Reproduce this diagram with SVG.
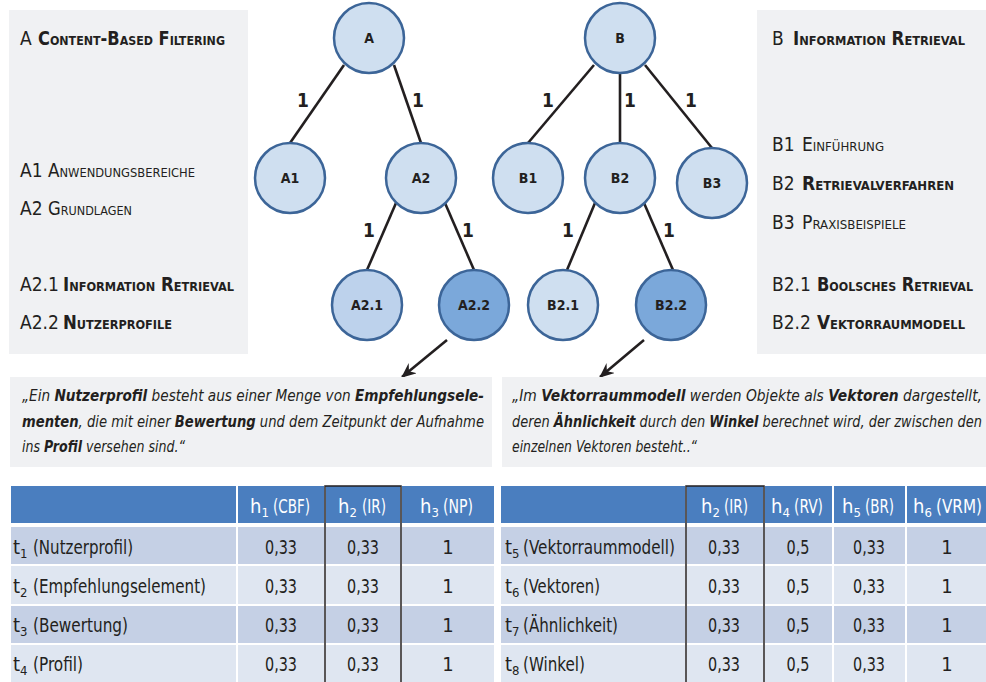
<svg xmlns="http://www.w3.org/2000/svg" width="986" height="682" viewBox="0 0 986 682">
<style>
.f{font-family:"Liberation Sans Narrow","DejaVu Sans Condensed","Liberation Sans",sans-serif;font-stretch:condensed;fill:#231f20}
.sc{font-variant:small-caps}
.b{font-weight:bold}
.panel{fill:#f0f1f3}
.node{stroke:#3c6598;stroke-width:2.5}
.lt{fill:#cfdff0}.md{fill:#bdd2ec}.dk{fill:#7ba8da}
.edge{stroke:#231f20;stroke-width:2.6;fill:none}
.nl{font-size:14px;font-weight:bold;text-anchor:middle}
.el{font-size:19px;font-weight:bold;text-anchor:middle}
.pt{font-size:19px}
.q{font-size:16.5px;font-style:italic}
.hd{fill:#4a7ebf}
.r1{fill:#c5d0e5}.r2{fill:#dfe6f1}
.th{font-size:20px;fill:#fff}
.td{font-size:20px;text-anchor:middle}
.tl{font-size:20px}
.sub{font-size:13px}
.bx{stroke:#231f20;stroke-width:1.5;fill:none}
</style>
<defs>
<marker id="head" markerWidth="15" markerHeight="13" refX="14" refY="6.5" orient="auto" markerUnits="userSpaceOnUse">
<path d="M0,0 L15,6.5 L0,13 L5,6.5 z" fill="#231f20"/>
</marker>
</defs>

<!-- side panels -->
<g id="panel-a">
<rect class="panel" x="9" y="10" width="239" height="344"/>
<text class="f pt" y="45"><tspan x="20">A</tspan><tspan x="38" class="b sc" textLength="187" lengthAdjust="spacingAndGlyphs">Content-Based Filtering</tspan></text>
<text class="f pt" y="177"><tspan x="20">A1</tspan><tspan x="48" class="sc" textLength="147" lengthAdjust="spacingAndGlyphs">Anwendungsbereiche</tspan></text>
<text class="f pt" y="215"><tspan x="20">A2</tspan><tspan x="48" class="sc" textLength="84" lengthAdjust="spacingAndGlyphs">Grundlagen</tspan></text>
<text class="f pt" y="291"><tspan x="20">A2.1</tspan><tspan x="63" class="b sc" textLength="171" lengthAdjust="spacingAndGlyphs">Information Retrieval</tspan></text>
<text class="f pt" y="329"><tspan x="20">A2.2</tspan><tspan x="63" class="b sc" textLength="109" lengthAdjust="spacingAndGlyphs">Nutzerprofile</tspan></text>
</g>

<g id="panel-b">
<rect class="panel" x="757" y="10" width="229" height="344"/>
<text class="f pt" y="45"><tspan x="772">B</tspan><tspan x="793" class="b sc" textLength="172" lengthAdjust="spacingAndGlyphs">Information Retrieval</tspan></text>
<text class="f pt" y="151"><tspan x="772">B1</tspan><tspan x="802" class="sc" textLength="82" lengthAdjust="spacingAndGlyphs">Einführung</tspan></text>
<text class="f pt" y="190"><tspan x="772">B2</tspan><tspan x="802" class="b sc" textLength="152" lengthAdjust="spacingAndGlyphs">Retrievalverfahren</tspan></text>
<text class="f pt" y="229"><tspan x="772">B3</tspan><tspan x="802" class="sc" textLength="104" lengthAdjust="spacingAndGlyphs">Praxisbeispiele</tspan></text>
<text class="f pt" y="291"><tspan x="772">B2.1</tspan><tspan x="817" class="b sc" textLength="156" lengthAdjust="spacingAndGlyphs">Boolsches Retrieval</tspan></text>
<text class="f pt" y="329"><tspan x="772">B2.2</tspan><tspan x="817" class="b sc" textLength="148" lengthAdjust="spacingAndGlyphs">Vektorraummodell</tspan></text>
</g>

<!-- connectors -->
<g id="connectors">
<line class="edge" x1="344" y1="65" x2="290" y2="143"/>
<line class="edge" x1="394" y1="65" x2="421" y2="143"/>
<line class="edge" x1="396" y1="203" x2="367" y2="270"/>
<line class="edge" x1="445" y1="203" x2="474" y2="270"/>
<line class="edge" x1="594" y1="65" x2="528" y2="143"/>
<line class="edge" x1="620" y1="73" x2="620" y2="143"/>
<line class="edge" x1="645" y1="65" x2="712" y2="148"/>
<line class="edge" x1="595" y1="203" x2="567" y2="270"/>
<line class="edge" x1="644" y1="203" x2="673" y2="270"/>
<line class="edge" x1="447" y1="340" x2="402" y2="377" marker-end="url(#head)"/>
<line class="edge" x1="644" y1="340" x2="600" y2="377" marker-end="url(#head)"/>
<text class="f el" x="303" y="107">1</text>
<text class="f el" x="418" y="107">1</text>
<text class="f el" x="369" y="237">1</text>
<text class="f el" x="468" y="237">1</text>
<text class="f el" x="548" y="107">1</text>
<text class="f el" x="630" y="107">1</text>
<text class="f el" x="691" y="107">1</text>
<text class="f el" x="568" y="237">1</text>
<text class="f el" x="669" y="237">1</text>
</g>

<!-- tree nodes -->
<g id="node-A"><circle class="node lt" cx="369" cy="38" r="35"/><text class="f nl" x="369" y="43">A</text></g>
<g id="node-A1"><circle class="node lt" cx="290" cy="178" r="35"/><text class="f nl" x="290" y="183">A1</text></g>
<g id="node-A2"><circle class="node lt" cx="421" cy="178" r="35"/><text class="f nl" x="421" y="183">A2</text></g>
<g id="node-A2-1"><circle class="node md" cx="367" cy="305" r="35"/><text class="f nl" x="367" y="310">A2.1</text></g>
<g id="node-A2-2"><circle class="node dk" cx="474" cy="305" r="35"/><text class="f nl" x="474" y="310">A2.2</text></g>
<g id="node-B"><circle class="node lt" cx="620" cy="38" r="35"/><text class="f nl" x="620" y="43">B</text></g>
<g id="node-B1"><circle class="node lt" cx="528" cy="178" r="35"/><text class="f nl" x="528" y="183">B1</text></g>
<g id="node-B2"><circle class="node lt" cx="620" cy="178" r="35"/><text class="f nl" x="620" y="183">B2</text></g>
<g id="node-B3"><circle class="node lt" cx="712" cy="183" r="35"/><text class="f nl" x="712" y="188">B3</text></g>
<g id="node-B2-1"><circle class="node lt" cx="563" cy="305" r="35"/><text class="f nl" x="563" y="310">B2.1</text></g>
<g id="node-B2-2"><circle class="node dk" cx="671" cy="305" r="35"/><text class="f nl" x="671" y="310">B2.2</text></g>

<!-- definitions -->
<g id="quote-a">
<rect class="panel" x="10" y="377" width="482" height="90"/>
<text class="f q" x="22" y="401" textLength="462" lengthAdjust="spacingAndGlyphs">„Ein <tspan class="b">Nutzerprofil</tspan> besteht aus einer Menge von <tspan class="b">Empfehlungsele-</tspan></text>
<text class="f q" x="22" y="427" textLength="462" lengthAdjust="spacingAndGlyphs"><tspan class="b">menten</tspan>, die mit einer <tspan class="b">Bewertung</tspan> und dem Zeitpunkt der Aufnahme</text>
<text class="f q" x="22" y="452" textLength="163" lengthAdjust="spacingAndGlyphs">ins <tspan class="b">Profil</tspan> versehen sind.“</text>
</g>
<g id="quote-b">
<rect class="panel" x="502" y="377" width="484" height="90"/>
<text class="f q" x="512" y="401" textLength="470" lengthAdjust="spacingAndGlyphs">„Im <tspan class="b">Vektorraummodell</tspan> werden Objekte als <tspan class="b">Vektoren</tspan> dargestellt,</text>
<text class="f q" x="512" y="427" textLength="470" lengthAdjust="spacingAndGlyphs">deren <tspan class="b">Ähnlichkeit</tspan> durch den <tspan class="b">Winkel</tspan> berechnet wird, der zwischen den</text>
<text class="f q" x="512" y="452" textLength="185" lengthAdjust="spacingAndGlyphs">einzelnen Vektoren besteht..“</text>
</g>

<!-- weight table A -->
<g id="table-a">
<rect class="hd" x="11" y="486" width="225" height="37"/>
<rect class="hd" x="238" y="486" width="86" height="37"/>
<rect class="hd" x="326" y="486" width="74" height="37"/>
<rect class="hd" x="402" y="486" width="92" height="37"/>
<rect class="r1" x="11" y="527" width="225" height="37"/><rect class="r1" x="238" y="527" width="86" height="37"/><rect class="r1" x="326" y="527" width="74" height="37"/><rect class="r1" x="402" y="527" width="92" height="37"/>
<rect class="r2" x="11" y="566" width="225" height="38"/><rect class="r2" x="238" y="566" width="86" height="38"/><rect class="r2" x="326" y="566" width="74" height="38"/><rect class="r2" x="402" y="566" width="92" height="38"/>
<rect class="r1" x="11" y="606" width="225" height="37"/><rect class="r1" x="238" y="606" width="86" height="37"/><rect class="r1" x="326" y="606" width="74" height="37"/><rect class="r1" x="402" y="606" width="92" height="37"/>
<rect class="r2" x="11" y="645" width="225" height="37"/><rect class="r2" x="238" y="645" width="86" height="37"/><rect class="r2" x="326" y="645" width="74" height="37"/><rect class="r2" x="402" y="645" width="92" height="37"/>
<path class="bx" d="M325,682 V486 H401 V682"/>
<text class="f th" y="513"><tspan x="250">h</tspan><tspan class="sub" dy="4">1</tspan><tspan x="273" dy="-4" textLength="37" lengthAdjust="spacingAndGlyphs">(CBF)</tspan></text>
<text class="f th" y="513"><tspan x="338">h</tspan><tspan class="sub" dy="4">2</tspan><tspan x="362" dy="-4" textLength="24" lengthAdjust="spacingAndGlyphs">(IR)</tspan></text>
<text class="f th" y="513"><tspan x="420">h</tspan><tspan class="sub" dy="4">3</tspan><tspan x="443" dy="-4" textLength="30" lengthAdjust="spacingAndGlyphs">(NP)</tspan></text>
<text class="f tl" y="554"><tspan x="13">t</tspan><tspan class="sub" dy="4">1</tspan><tspan x="33" dy="-4" textLength="100" lengthAdjust="spacingAndGlyphs">(Nutzerprofil)</tspan></text>
<text class="f tl" y="593"><tspan x="13">t</tspan><tspan class="sub" dy="4">2</tspan><tspan x="33" dy="-4" textLength="173" lengthAdjust="spacingAndGlyphs">(Empfehlungselement)</tspan></text>
<text class="f tl" y="632"><tspan x="13">t</tspan><tspan class="sub" dy="4">3</tspan><tspan x="33" dy="-4" textLength="95" lengthAdjust="spacingAndGlyphs">(Bewertung)</tspan></text>
<text class="f tl" y="671"><tspan x="13">t</tspan><tspan class="sub" dy="4">4</tspan><tspan x="33" dy="-4" textLength="50" lengthAdjust="spacingAndGlyphs">(Profil)</tspan></text>
<text class="f td" x="281" y="554" textLength="32" lengthAdjust="spacingAndGlyphs">0,33</text><text class="f td" x="363" y="554" textLength="32" lengthAdjust="spacingAndGlyphs">0,33</text><text class="f td" x="448" y="554">1</text>
<text class="f td" x="281" y="593" textLength="32" lengthAdjust="spacingAndGlyphs">0,33</text><text class="f td" x="363" y="593" textLength="32" lengthAdjust="spacingAndGlyphs">0,33</text><text class="f td" x="448" y="593">1</text>
<text class="f td" x="281" y="632" textLength="32" lengthAdjust="spacingAndGlyphs">0,33</text><text class="f td" x="363" y="632" textLength="32" lengthAdjust="spacingAndGlyphs">0,33</text><text class="f td" x="448" y="632">1</text>
<text class="f td" x="281" y="671" textLength="32" lengthAdjust="spacingAndGlyphs">0,33</text><text class="f td" x="363" y="671" textLength="32" lengthAdjust="spacingAndGlyphs">0,33</text><text class="f td" x="448" y="671">1</text>
</g>

<!-- weight table B -->
<g id="table-b">
<rect class="hd" x="501" y="486" width="184" height="37"/>
<rect class="hd" x="687" y="486" width="76" height="37"/>
<rect class="hd" x="765" y="486" width="67" height="37"/>
<rect class="hd" x="834" y="486" width="71" height="37"/>
<rect class="hd" x="907" y="486" width="79" height="37"/>
<rect class="r1" x="501" y="527" width="184" height="37"/><rect class="r1" x="687" y="527" width="76" height="37"/><rect class="r1" x="765" y="527" width="67" height="37"/><rect class="r1" x="834" y="527" width="71" height="37"/><rect class="r1" x="907" y="527" width="79" height="37"/>
<rect class="r2" x="501" y="566" width="184" height="38"/><rect class="r2" x="687" y="566" width="76" height="38"/><rect class="r2" x="765" y="566" width="67" height="38"/><rect class="r2" x="834" y="566" width="71" height="38"/><rect class="r2" x="907" y="566" width="79" height="38"/>
<rect class="r1" x="501" y="606" width="184" height="37"/><rect class="r1" x="687" y="606" width="76" height="37"/><rect class="r1" x="765" y="606" width="67" height="37"/><rect class="r1" x="834" y="606" width="71" height="37"/><rect class="r1" x="907" y="606" width="79" height="37"/>
<rect class="r2" x="501" y="645" width="184" height="37"/><rect class="r2" x="687" y="645" width="76" height="37"/><rect class="r2" x="765" y="645" width="67" height="37"/><rect class="r2" x="834" y="645" width="71" height="37"/><rect class="r2" x="907" y="645" width="79" height="37"/>
<path class="bx" d="M686,682 V486 H764 V682"/>
<text class="f th" y="513"><tspan x="701">h</tspan><tspan class="sub" dy="4">2</tspan><tspan x="724" dy="-4" textLength="24" lengthAdjust="spacingAndGlyphs">(IR)</tspan></text>
<text class="f th" y="513"><tspan x="771">h</tspan><tspan class="sub" dy="4">4</tspan><tspan x="794" dy="-4" textLength="29" lengthAdjust="spacingAndGlyphs">(RV)</tspan></text>
<text class="f th" y="513"><tspan x="842">h</tspan><tspan class="sub" dy="4">5</tspan><tspan x="865" dy="-4" textLength="29" lengthAdjust="spacingAndGlyphs">(BR)</tspan></text>
<text class="f th" y="513"><tspan x="913">h</tspan><tspan class="sub" dy="4">6</tspan><tspan x="936" dy="-4" textLength="46" lengthAdjust="spacingAndGlyphs">(VRM)</tspan></text>
<text class="f tl" y="554"><tspan x="505">t</tspan><tspan class="sub" dy="4">5</tspan><tspan x="523" dy="-4" textLength="152" lengthAdjust="spacingAndGlyphs">(Vektorraummodell)</tspan></text>
<text class="f tl" y="593"><tspan x="505">t</tspan><tspan class="sub" dy="4">6</tspan><tspan x="523" dy="-4" textLength="77" lengthAdjust="spacingAndGlyphs">(Vektoren)</tspan></text>
<text class="f tl" y="632"><tspan x="505">t</tspan><tspan class="sub" dy="4">7</tspan><tspan x="523" dy="-4" textLength="95" lengthAdjust="spacingAndGlyphs">(Ähnlichkeit)</tspan></text>
<text class="f tl" y="671"><tspan x="505">t</tspan><tspan class="sub" dy="4">8</tspan><tspan x="523" dy="-4" textLength="62" lengthAdjust="spacingAndGlyphs">(Winkel)</tspan></text>
<text class="f td" x="724" y="554" textLength="32" lengthAdjust="spacingAndGlyphs">0,33</text><text class="f td" x="798" y="554" textLength="23" lengthAdjust="spacingAndGlyphs">0,5</text><text class="f td" x="869" y="554" textLength="32" lengthAdjust="spacingAndGlyphs">0,33</text><text class="f td" x="947" y="554">1</text>
<text class="f td" x="724" y="593" textLength="32" lengthAdjust="spacingAndGlyphs">0,33</text><text class="f td" x="798" y="593" textLength="23" lengthAdjust="spacingAndGlyphs">0,5</text><text class="f td" x="869" y="593" textLength="32" lengthAdjust="spacingAndGlyphs">0,33</text><text class="f td" x="947" y="593">1</text>
<text class="f td" x="724" y="632" textLength="32" lengthAdjust="spacingAndGlyphs">0,33</text><text class="f td" x="798" y="632" textLength="23" lengthAdjust="spacingAndGlyphs">0,5</text><text class="f td" x="869" y="632" textLength="32" lengthAdjust="spacingAndGlyphs">0,33</text><text class="f td" x="947" y="632">1</text>
<text class="f td" x="724" y="671" textLength="32" lengthAdjust="spacingAndGlyphs">0,33</text><text class="f td" x="798" y="671" textLength="23" lengthAdjust="spacingAndGlyphs">0,5</text><text class="f td" x="869" y="671" textLength="32" lengthAdjust="spacingAndGlyphs">0,33</text><text class="f td" x="947" y="671">1</text>
</g>
</svg>
